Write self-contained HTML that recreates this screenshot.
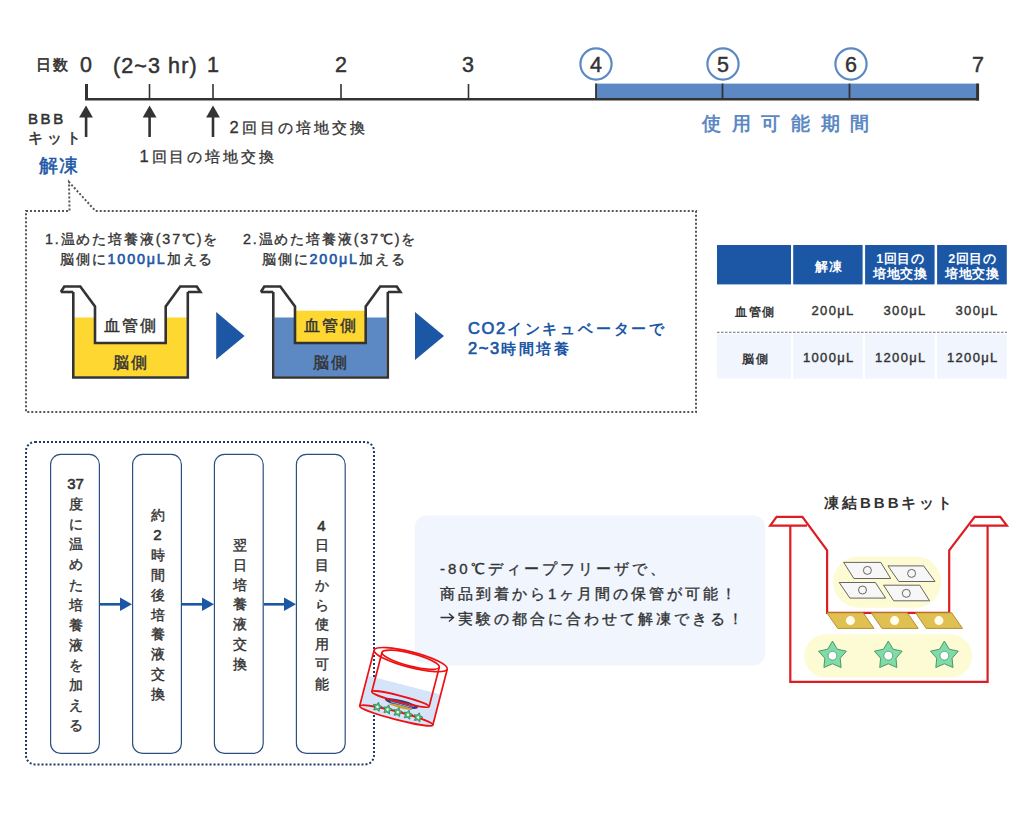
<!DOCTYPE html>
<html lang="ja">
<head>
<meta charset="utf-8">
<style>
html,body{margin:0;padding:0;background:#fff;}
body{width:1030px;height:820px;position:relative;overflow:hidden;font-family:"Liberation Sans",sans-serif;color:#333;}
.t{position:absolute;white-space:nowrap;line-height:1;}
.num{position:absolute;width:30px;text-align:center;font-size:21.5px;line-height:1;-webkit-text-stroke:0.45px #333;}
svg{position:absolute;left:0;top:0;}
.vt{position:absolute;width:49px;text-align:center;font-size:14px;font-weight:normal;-webkit-text-stroke:0.4px #333;line-height:19.8px;color:#333;}
.m{font-weight:normal;-webkit-text-stroke:0.35px #333;}
.b{color:#1c57a6;-webkit-text-stroke-color:#1c57a6 !important;}
</style>
</head>
<body>
<svg width="1030" height="820" viewBox="0 0 1030 820">
  <!-- timeline -->
  <rect x="596" y="83.6" width="383" height="15.4" fill="#5c89c3"/>
  <line x1="85" y1="99.2" x2="979" y2="99.2" stroke="#333" stroke-width="2.6"/>
  <line x1="86.5" y1="84" x2="86.5" y2="100" stroke="#333" stroke-width="3"/>
  <line x1="149.5" y1="84" x2="149.5" y2="99" stroke="#333" stroke-width="1.6"/>
  <line x1="213" y1="84" x2="213" y2="99" stroke="#333" stroke-width="1.6"/>
  <line x1="341" y1="84" x2="341" y2="99" stroke="#333" stroke-width="1.6"/>
  <line x1="468.5" y1="84" x2="468.5" y2="99" stroke="#333" stroke-width="1.6"/>
  <line x1="596" y1="83.6" x2="596" y2="99" stroke="#333" stroke-width="1.8"/>
  <line x1="722.5" y1="83.6" x2="722.5" y2="99" stroke="#333" stroke-width="1.8"/>
  <line x1="849.5" y1="83.6" x2="849.5" y2="99" stroke="#333" stroke-width="1.8"/>
  <line x1="977.6" y1="83.6" x2="977.6" y2="100.5" stroke="#333" stroke-width="3"/>
  <circle cx="596" cy="64" r="15.6" fill="none" stroke="#5c89c3" stroke-width="2.2"/>
  <circle cx="723" cy="64" r="15.6" fill="none" stroke="#5c89c3" stroke-width="2.2"/>
  <circle cx="851" cy="64" r="15.6" fill="none" stroke="#5c89c3" stroke-width="2.2"/>
  <!-- up arrows -->
  <g fill="#333">
    <path d="M86 105.5 L92.9 117.5 L79.1 117.5 Z"/><rect x="84.8" y="116" width="2.6" height="21"/>
    <path d="M149.6 105.5 L156.5 117.5 L142.7 117.5 Z"/><rect x="148.3" y="116" width="2.6" height="21"/>
    <path d="M213 105.5 L219.9 117.5 L206.1 117.5 Z"/><rect x="211.7" y="116" width="2.6" height="21"/>
  </g>
  <!-- dotted speech box -->
  <path d="M26 211 L69.5 211 L69 182 L95.5 211 L696 211 L696 412 L26 412 Z" fill="none" stroke="#555" stroke-width="2" stroke-dasharray="2 2"/>
  <!-- beaker 1 -->
  <g>
    <path d="M74.5 317.6 L95 317.6 L95 343 L165.7 343 L165.7 317.6 L186.5 317.6 L186.5 376.5 L74.5 376.5 Z" fill="#fed731"/>
    <path d="M73.3 292 L73.3 377.5 L187.8 377.5 L187.8 292" fill="none" stroke="#333" stroke-width="2.6"/>
    <path d="M60.8 292 L64.3 286.5 L80.3 286.5 L95 306.4 L95 343 L165.7 343 L165.7 306.4 L180.2 286.5 L196.8 286.5 L200.4 292 L187.8 292" fill="none" stroke="#333" stroke-width="2.6"/>
    <path d="M60.8 292 L73.3 292" fill="none" stroke="#333" stroke-width="2.6"/>
  </g>
  <!-- beaker 2 -->
  <g transform="translate(200,0)">
    <path d="M74.5 317.6 L95 317.6 L95 343 L165.7 343 L165.7 317.6 L186.5 317.6 L186.5 376.5 L74.5 376.5 Z" fill="#5c89c3"/>
    <rect x="95" y="310.7" width="70.7" height="32.3" fill="#fed731"/>
    <path d="M73.3 292 L73.3 377.5 L187.8 377.5 L187.8 292" fill="none" stroke="#333" stroke-width="2.6"/>
    <path d="M60.8 292 L64.3 286.5 L80.3 286.5 L95 306.4 L95 343 L165.7 343 L165.7 306.4 L180.2 286.5 L196.8 286.5 L200.4 292 L187.8 292" fill="none" stroke="#333" stroke-width="2.6"/>
    <path d="M60.8 292 L73.3 292" fill="none" stroke="#333" stroke-width="2.6"/>
  </g>
  <path d="M216.2 312 L244.6 336 L216.2 359.6 Z" fill="#1c57a6"/>
  <path d="M415 312 L444 336 L415 360 Z" fill="#1c57a6"/>
</svg>

<!-- timeline labels -->
<div class="t m" style="left:36px;top:56.8px;font-size:15px;letter-spacing:2.4px;-webkit-text-stroke-width:0.6px;">日数</div>
<div class="num" style="left:71px;top:55px;">0</div>
<div class="t" style="left:113px;top:55.5px;font-size:21.5px;letter-spacing:1.1px;-webkit-text-stroke:0.5px #333;">(2~3 hr)</div>
<div class="num" style="left:198px;top:55px;">1</div>
<div class="num" style="left:326px;top:55px;">2</div>
<div class="num" style="left:453px;top:55px;">3</div>
<div class="num" style="left:581px;top:55px;">4</div>
<div class="num" style="left:708px;top:55px;">5</div>
<div class="num" style="left:836px;top:55px;">6</div>
<div class="num" style="left:963px;top:55px;">7</div>
<div class="t" style="left:702px;top:114px;font-size:19px;font-weight:bold;letter-spacing:10.7px;color:#5c89c3;">使用可能期間</div>
<div class="t m" style="left:28px;top:110.5px;font-size:15px;letter-spacing:2.6px;-webkit-text-stroke-width:0.55px;">BBB</div>
<div class="t m" style="left:28px;top:131px;font-size:14.5px;letter-spacing:4px;-webkit-text-stroke-width:0.5px;">キット</div>
<div class="t m b" style="left:39px;top:156px;font-size:19px;letter-spacing:1.2px;-webkit-text-stroke-width:0.5px;">解凍</div>
<div class="t" style="left:139.5px;top:148px;font-size:15.3px;letter-spacing:2.9px;-webkit-text-stroke:0.3px #333;"><span style="font-size:16.5px">1</span>回目の培地交換</div>
<div class="t" style="left:229.5px;top:118.6px;font-size:15.3px;letter-spacing:3.1px;-webkit-text-stroke:0.3px #333;"><span style="font-size:16.5px">2</span>回目の培地交換</div>

<!-- step texts -->
<div class="t m" style="left:45px;top:232px;font-size:14.3px;letter-spacing:1.85px;">1.温めた培養液(37℃)を</div>
<div class="t m" style="left:60px;top:252px;font-size:14.3px;letter-spacing:1.85px;">脳側に<span class="b" style="-webkit-text-stroke-width:0.6px">1000μL</span>加える</div>
<div class="t m" style="left:243px;top:232px;font-size:14.3px;letter-spacing:1.85px;">2.温めた培養液(37℃)を</div>
<div class="t m" style="left:262px;top:252px;font-size:14.3px;letter-spacing:1.85px;">脳側に<span class="b" style="-webkit-text-stroke-width:0.6px">200μL</span>加える</div>
<div class="t" style="left:104px;top:318px;font-size:16px;letter-spacing:2px;-webkit-text-stroke:0.45px #333;">血管側</div>
<div class="t" style="left:113px;top:354.5px;font-size:16px;letter-spacing:2px;-webkit-text-stroke:0.45px #333;">脳側</div>
<div class="t" style="left:304px;top:318px;font-size:16px;letter-spacing:2px;-webkit-text-stroke:0.45px #333;">血管側</div>
<div class="t" style="left:313px;top:354.5px;font-size:16px;letter-spacing:2px;-webkit-text-stroke:0.45px #333;">脳側</div>
<div class="t b" style="left:468px;top:319px;font-size:15px;font-weight:bold;letter-spacing:2.8px;line-height:18.5px;"><span style="font-size:16.5px;letter-spacing:1.6px;font-weight:normal;-webkit-text-stroke:0.7px #1c57a6;">CO2</span>インキュベーターで<br><span style="font-size:16.5px;letter-spacing:1.6px;font-weight:normal;-webkit-text-stroke:0.7px #1c57a6;">2~3</span>時間培養</div>

<!-- table -->
<svg width="1030" height="820" viewBox="0 0 1030 820">
  <rect x="717" y="245" width="74" height="39.4" fill="#1c57a6"/>
  <rect x="793.2" y="245" width="69.4" height="39.4" fill="#1c57a6"/>
  <rect x="865.1" y="245" width="69.5" height="39.4" fill="#1c57a6"/>
  <rect x="937.1" y="245" width="69.7" height="39.4" fill="#1c57a6"/>
  <rect x="717" y="333.8" width="74" height="44.7" fill="#f0f5fe"/>
  <rect x="793.2" y="333.8" width="69.4" height="44.7" fill="#f0f5fe"/>
  <rect x="865.1" y="333.8" width="69.5" height="44.7" fill="#f0f5fe"/>
  <rect x="937.1" y="333.8" width="69.7" height="44.7" fill="#f0f5fe"/>
  <line x1="717" y1="332.4" x2="1007" y2="332.4" stroke="#8a8a8a" stroke-width="1.3" stroke-dasharray="2.5 1.5"/>
</svg>
<div class="t" style="left:794px;top:259.5px;width:70px;text-align:center;font-size:13px;font-weight:bold;color:#fff;letter-spacing:1.5px;">解凍</div>
<div class="t" style="left:865.5px;top:252px;width:70px;text-align:center;font-size:12.5px;font-weight:bold;color:#fff;line-height:14.8px;letter-spacing:0.6px;">1回目の<br>培地交換</div>
<div class="t" style="left:937.5px;top:252px;width:70px;text-align:center;font-size:12.5px;font-weight:bold;color:#fff;line-height:14.8px;letter-spacing:0.6px;">2回目の<br>培地交換</div>
<div class="t" style="left:718.5px;top:305.5px;width:74px;text-align:center;font-size:12px;font-weight:bold;letter-spacing:1.8px;">血管側</div>
<div class="t" style="left:719px;top:352.5px;width:74px;text-align:center;font-size:12px;font-weight:bold;letter-spacing:1.8px;">脳側</div>
<div class="t" style="left:793px;top:304px;width:61.5px;text-align:right;font-size:13px;letter-spacing:1.3px;-webkit-text-stroke:0.4px #333;">200μL</div>
<div class="t" style="left:865px;top:304px;width:61.5px;text-align:right;font-size:13px;letter-spacing:1.3px;-webkit-text-stroke:0.4px #333;">300μL</div>
<div class="t" style="left:937px;top:304px;width:61.5px;text-align:right;font-size:13px;letter-spacing:1.3px;-webkit-text-stroke:0.4px #333;">300μL</div>
<div class="t" style="left:793px;top:351px;width:61.5px;text-align:right;font-size:13px;letter-spacing:1.3px;-webkit-text-stroke:0.4px #333;">1000μL</div>
<div class="t" style="left:865px;top:351px;width:61.5px;text-align:right;font-size:13px;letter-spacing:1.3px;-webkit-text-stroke:0.4px #333;">1200μL</div>
<div class="t" style="left:937px;top:351px;width:61.5px;text-align:right;font-size:13px;letter-spacing:1.3px;-webkit-text-stroke:0.4px #333;">1200μL</div>

<!-- bottom section -->
<svg width="1030" height="820" viewBox="0 0 1030 820">
  <rect x="26" y="442" width="348" height="322.4" rx="9" fill="none" stroke="#1f3a66" stroke-width="2" stroke-dasharray="2 2"/>
  <rect x="50.6" y="454.4" width="48.8" height="299" rx="10" fill="#fff" stroke="#2d4f80" stroke-width="1.2"/>
  <rect x="132.6" y="454.4" width="48.8" height="299" rx="10" fill="#fff" stroke="#2d4f80" stroke-width="1.2"/>
  <rect x="214.4" y="454.4" width="48.8" height="299" rx="10" fill="#fff" stroke="#2d4f80" stroke-width="1.2"/>
  <rect x="296.4" y="454.4" width="48.8" height="299" rx="10" fill="#fff" stroke="#2d4f80" stroke-width="1.2"/>
  <g fill="#1c57a6">
    <rect x="100" y="603" width="22" height="2.6"/><path d="M120 597.5 L132 604.3 L120 611 Z"/>
    <rect x="182" y="603" width="22" height="2.6"/><path d="M202 597.5 L214 604.3 L202 611 Z"/>
    <rect x="264" y="603" width="22" height="2.6"/><path d="M284 597.5 L296 604.3 L284 611 Z"/>
  </g>
  <rect x="414.8" y="515.5" width="350.5" height="150" rx="12" fill="#f0f5fe"/>
</svg>
<div class="vt" style="left:51px;top:474.3px;line-height:20.05px;"><span style="font-size:15px;-webkit-text-stroke-width:0.6px">37</span><br>度<br>に<br>温<br>め<br>た<br>培<br>養<br>液<br>を<br>加<br>え<br>る</div>
<div class="vt" style="left:133px;top:505.6px;">約<br><span style="font-size:15px;-webkit-text-stroke-width:0.6px">2</span><br>時<br>間<br>後<br>培<br>養<br>液<br>交<br>換</div>
<div class="vt" style="left:215px;top:536px;">翌<br>日<br>培<br>養<br>液<br>交<br>換</div>
<div class="vt" style="left:297px;top:515.5px;"><span style="font-size:15px;-webkit-text-stroke-width:0.6px">4</span><br>日<br>目<br>か<br>ら<br>使<br>用<br>可<br>能</div>
<div class="t m" style="left:440px;top:556px;font-size:15px;letter-spacing:3px;line-height:25px;">-80℃ディープフリーザで、<br>商品到着から1ヶ月間の保管が可能！<br><span style="display:inline-block;width:18px"></span>実験の都合に合わせて解凍できる！</div>
<svg width="1030" height="820"><path d="M440.5 617.5 L453 617.5 M449 613.5 L453.5 617.5 L449 621.5" fill="none" stroke="#333" stroke-width="1.4"/></svg>
<div class="t" style="left:824px;top:495px;font-size:15px;font-weight:bold;letter-spacing:3px;">凍結BBBキット</div>

<!-- frozen kit illustration -->
<svg width="1030" height="820" viewBox="0 0 1030 820">
  <defs>
    <path id="bs" d="M0.00 -14.60 L4.76 -6.55 L13.89 -4.51 L7.70 2.50 L8.58 11.81 L0.00 8.10 L-8.58 11.81 L-7.70 2.50 L-13.89 -4.51 L-4.76 -6.55 Z"/>
    <path id="ss" d="M0.00 -4.80 L1.53 -2.10 L4.57 -1.48 L2.47 0.80 L2.82 3.88 L0.00 2.60 L-2.82 3.88 L-2.47 0.80 L-4.57 -1.48 L-1.53 -2.10 Z"/>
  </defs>
  <rect x="833" y="556.4" width="108" height="51.3" rx="25.6" fill="#fdfbd3"/>
  <rect x="804.3" y="634.3" width="167.7" height="43.3" rx="21.6" fill="#fdfbd3"/>
  <path d="M790.3 525.6 L790.3 681.8 L987.6 681.8 L987.6 525.6" fill="none" stroke="#dc1d24" stroke-width="2.2"/>
  <path d="M807 525.6 L770.2 525.6 L776.6 516.8 L802.4 516.8 L827.1 550.3 L827.1 612.8 L949.2 612.8 L949.2 550.3 L974.7 516.8 L1000.2 516.8 L1006.9 525.6 L970.1 525.6" fill="none" stroke="#dc1d24" stroke-width="2.2"/>
  <g fill="#e0c050" stroke="#a88a28" stroke-width="0.9">
    <path d="M826.8 612.8 L863.2 612.8 L874 628.4 L837.8 628.4 Z"/>
    <path d="M871.2 612.8 L907.4 612.8 L918.2 628.4 L882 628.4 Z"/>
    <path d="M915.5 612.8 L951.7 612.8 L962.5 628.4 L926.3 628.4 Z"/>
  </g>
  <g fill="#fffef0">
    <circle cx="850.4" cy="620.6" r="4.5"/><circle cx="894.6" cy="620.6" r="4.5"/><circle cx="938.9" cy="620.6" r="4.5"/>
  </g>
  <g fill="#f7f7f7" stroke="#555" stroke-width="0.9">
    <path d="M843.7 562.4 L880.8 562.4 L890.7 578.5 L853.9 578.5 Z"/>
    <path d="M888 565.9 L923.7 565.9 L935 581.5 L898.8 581.5 Z"/>
    <path d="M839.2 582.5 L875.4 582.5 L885.6 598.1 L849.9 598.1 Z"/>
    <path d="M883.5 585.2 L919.7 585.2 L929.6 600.8 L893.7 600.8 Z"/>
    <circle cx="867.4" cy="570.4" r="4"/><circle cx="911.6" cy="573.4" r="4"/><circle cx="862.5" cy="590" r="4"/><circle cx="906.3" cy="593.3" r="4"/>
  </g>
  <g fill="#7fdba8" stroke="#3f8f60" stroke-width="0.9">
    <use href="#bs" x="832.5" y="655.7"/><use href="#bs" x="888.3" y="655.7"/><use href="#bs" x="944.4" y="655.7"/>
  </g>
  <g fill="#fff" stroke="#3f8f60" stroke-width="0.7">
    <circle cx="832.5" cy="655.7" r="4.4"/><circle cx="888.3" cy="655.7" r="4.4"/><circle cx="944.4" cy="655.7" r="4.4"/>
  </g>
</svg>

<!-- cylinder icon -->
<svg width="1030" height="820" viewBox="0 0 1030 820">
  <g transform="translate(403.5,687.5) rotate(14.5)">
    <path d="M-37.8 -2.5 L-37.8 28.9 A37.8 4 0 0 0 37.8 28.9 L37.8 -2.5 Z" fill="#d6e4fa"/>
    <path d="M-29.6 -28.7 L-29.6 -2.5 L29.6 -2.5 L29.6 -28.7 Z" fill="#fff"/>
    <path d="M-29.6 -2.5 L-29.6 12 A29.6 3.2 0 0 0 29.6 12 L29.6 -2.5 Z" fill="#d6e4fa"/>
    <ellipse cx="2" cy="16" rx="17" ry="3.4" fill="#243f88"/>
    <path d="M-11 15 L15 15.8 M-9 17 L13 17.4" stroke="#b9c8e8" stroke-width="0.7"/>
    <ellipse cx="2" cy="19.3" rx="12" ry="1.5" fill="#c8a040"/>
    <path d="M-37.8 -28.8 L-37.8 28.9 M37.8 28.9 L37.8 -28.8" fill="none" stroke="#ee1111" stroke-width="1.7"/>
    <ellipse cx="0" cy="28.9" rx="37.8" ry="4" fill="none" stroke="#ee1111" stroke-width="1.7"/>
    <ellipse cx="0" cy="-28.8" rx="37.8" ry="7.8" fill="none" stroke="#ee1111" stroke-width="1.7"/>
    <path d="M-29.6 -28.7 L-29.6 12 M29.6 12 L29.6 -28.7" fill="none" stroke="#ee1111" stroke-width="1.7"/>
    <ellipse cx="0" cy="12" rx="29.6" ry="3.2" fill="none" stroke="#ee1111" stroke-width="1.8"/>
    <ellipse cx="0" cy="-28.7" rx="29.6" ry="6.3" fill="none" stroke="#ee1111" stroke-width="1.7"/>
    <g fill="#55bd7c" stroke="#1f6e40" stroke-width="0.6">
      <use href="#ss" x="-20.4" y="25.3"/><use href="#ss" x="-9.9" y="25.3"/><use href="#ss" x="0.6" y="25.3"/><use href="#ss" x="11.1" y="25.3"/><use href="#ss" x="21.6" y="25.3"/>
    </g>
    <g fill="#fff">
      <circle cx="-20.4" cy="25.3" r="1.2"/><circle cx="-9.9" cy="25.3" r="1.2"/><circle cx="0.6" cy="25.3" r="1.2"/><circle cx="11.1" cy="25.3" r="1.2"/><circle cx="21.6" cy="25.3" r="1.2"/>
    </g>
  </g>
</svg>

</body>
</html>
